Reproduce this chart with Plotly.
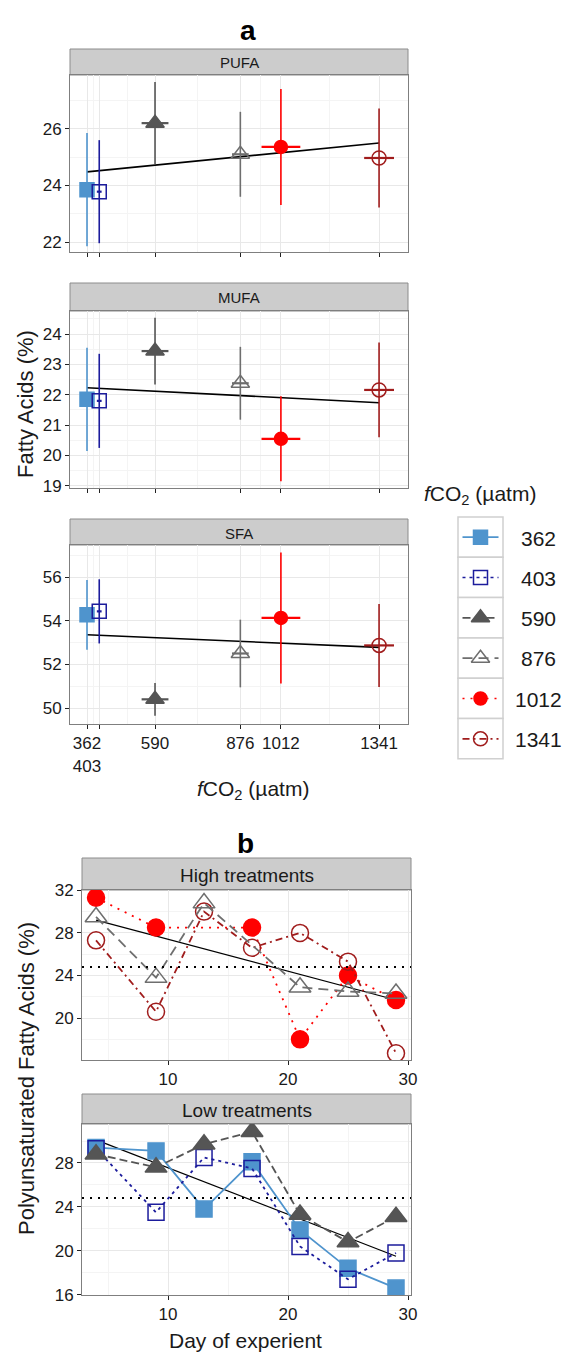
import plotly.graph_objects as go

W, H = 563, 1353
FONT = "Liberation Sans, Arial, sans-serif"

# ---- panel a: fatty acids vs fCO2 (mean and sd) ----
co2 = [362, 403, 590, 876, 1012, 1341]
co2_sd = [8, 8, 45, 28, 65, 50]
pufa = [23.85, 23.78, 26.2, 25.1, 25.36, 24.97]
pufa_sd = [2.0, 1.82, 1.45, 1.5, 2.05, 1.75]
mufa = [21.85, 21.8, 23.44, 22.38, 20.55, 22.16]
mufa_sd = [1.7, 1.55, 1.1, 1.2, 1.4, 1.56]
sfa = [54.27, 54.43, 50.4, 52.5, 54.13, 52.87]
sfa_sd = [1.6, 1.47, 0.75, 1.55, 3.0, 1.9]
pufa_fit = [24.48, 25.5]
mufa_fit = [22.23, 21.74]
sfa_fit = [53.36, 52.78]

# ---- panel b: PUFA over time ----
days = [4, 9, 13, 17, 21, 25, 29]
high = {
    1012: [31.3, 28.5, None, 28.5, 18.0, 24.0, 21.7],
    1341: [27.3, 20.6, 30.0, 26.6, 28.0, 25.3, 16.7],
    876: [29.5, 23.8, 30.8, None, 22.9, 22.5, 22.3],
}
low = {
    362: [29.4, 29.1, 23.8, 28.1, 21.9, 18.4, 16.6],
    403: [29.3, 23.5, 28.5, 27.5, 20.4, 17.4, 19.8],
    590: [28.8, 27.6, 29.7, 30.85, 23.3, 20.8, 23.1],
}
high_fit = [29.2, 21.7]
low_fit = [30.1, 19.5]
ref_level = 24.8

sty = {
    362: dict(c="#4F94CD", sym="square", dash="solid", sa=14, sb=16),
    403: dict(c="#1C1C9C", sym="square-open", dash="3px,4px", sa=14, sb=16),
    590: dict(c="#555555", sym="triangle-up", dash="8px,4px", sa=16, sb=19),
    876: dict(c="#6E6E6E", sym="triangle-up-open", dash="10px,6px", sa=16, sb=19),
    1012: dict(c="#FF0000", sym="circle", dash="2px,6px", sa=13, sb=17),
    1341: dict(c="#A01C1C", sym="circle-open", dash="7px,4px,2px,4px", sa=14, sb=17),
}


def px(x):
    return x / W


def py(y):
    return 1 - y / H


fig = go.Figure()
shapes = []
ann = []

# plot boxes in pixel coords: (x0, x1, ytop, ybottom)
boxes = {
    1: (70, 408, 75, 252),
    2: (70, 408, 311, 488),
    3: (70, 408, 545, 724),
    4: (82, 411, 890, 1060),
    5: (82, 411, 1124, 1295),
}
strips = {1: (49, "PUFA", 15), 2: (283, "MUFA", 15), 3: (519, "SFA", 15),
          4: (858, "High treatments", 19), 5: (1094, "Low treatments", 19)}

panels_a = [(1, pufa, pufa_sd, pufa_fit), (2, mufa, mufa_sd, mufa_fit), (3, sfa, sfa_sd, sfa_fit)]
for k, vals, sds, fit in panels_a:
    xa, ya = "x%d" % k, "y%d" % k
    fig.add_trace(go.Scatter(x=[co2[0], co2[-1]], y=fit, mode="lines",
                             line=dict(color="black", width=1.6), xaxis=xa, yaxis=ya))
    for i, t in enumerate(co2):
        s = sty[t]
        fig.add_trace(go.Scatter(
            x=[t], y=[vals[i]], mode="markers", xaxis=xa, yaxis=ya,
            marker=dict(symbol=s["sym"], size=s["sa"], color=s["c"],
                        line=dict(color=s["c"], width=1.5)),
            error_y=dict(type="data", array=[sds[i]], width=0, thickness=1.6, color=s["c"]),
            error_x=dict(type="data", array=[co2_sd[i]], width=0, thickness=2.2, color=s["c"]),
        ))

for k, group, fit in [(4, high, high_fit), (5, low, low_fit)]:
    xa, ya = "x%d" % k, "y%d" % k
    fig.add_trace(go.Scatter(x=[days[0], days[-1]], y=fit, mode="lines",
                             line=dict(color="black", width=1.2), xaxis=xa, yaxis=ya))
    for t, vals in group.items():
        s = sty[t]
        fig.add_trace(go.Scatter(
            x=days, y=vals, mode="lines+markers", connectgaps=True, xaxis=xa, yaxis=ya,
            line=dict(color=s["c"], width=1.8, dash=s["dash"]),
            marker=dict(symbol=s["sym"], size=s["sb"], color=s["c"],
                        line=dict(color=s["c"], width=1.5)),
        ))
    shapes.append(dict(type="line", xref="x%d domain" % k, yref=ya, x0=0, x1=1,
                       y0=ref_level, y1=ref_level, line=dict(color="black", width=2, dash="2px,6px")))

# legend keys on their own axis
for i, t in enumerate(co2):
    s = sty[t]
    fig.add_trace(go.Scatter(x=[0.1, 0.9], y=[i + 0.5, i + 0.5], mode="lines",
                             line=dict(color=s["c"], width=1.6, dash=s["dash"]),
                             xaxis="x6", yaxis="y6"))
    fig.add_trace(go.Scatter(x=[0.5], y=[i + 0.5], mode="markers",
                             marker=dict(symbol=s["sym"], size=s["sa"], color=s["c"],
                                         line=dict(color=s["c"], width=1.5)),
                             xaxis="x6", yaxis="y6"))

grid = "#E8E8E8"
minor_grid = "#F4F4F4"
tickfont = dict(family=FONT, size=17, color="#1a1a1a")


def xcfg(k, rng, tv, tt, minor, labels):
    x0, x1, yt, yb = boxes[k]
    return dict(domain=[px(x0), px(x1)], anchor="y%d" % k, range=rng,
                tickvals=tv, ticktext=tt, showticklabels=labels,
                ticks="outside", ticklen=4, tickwidth=1.2, tickcolor="#222",
                showline=True, mirror=True, linecolor="#7F7F7F", linewidth=1,
                showgrid=True, gridcolor=grid, gridwidth=1, zeroline=False,
                minor=dict(tickvals=minor, showgrid=True, gridcolor=minor_grid, ticks=""),
                tickfont=tickfont, automargin=False)


def ycfg(k, rng, tv, minor):
    x0, x1, yt, yb = boxes[k]
    return dict(domain=[py(yb), py(yt)], anchor="x%d" % k, range=rng,
                tickvals=tv, ticks="outside", ticklen=4, tickwidth=1.2, tickcolor="#222",
                showline=True, mirror=True, linecolor="#7F7F7F", linewidth=1,
                showgrid=True, gridcolor=grid, gridwidth=1, zeroline=False,
                minor=dict(tickvals=minor, showgrid=True, gridcolor=minor_grid, ticks=""),
                tickfont=tickfont, automargin=False)


co2_minor = [(co2[i] + co2[i + 1]) / 2 for i in range(len(co2) - 1)]
co2_text = ["362<br>403", "", "590", "876", "1012", "1341"]
layout_axes = {}
for k in (1, 2, 3):
    layout_axes["xaxis%d" % k] = xcfg(k, [305, 1438], co2, co2_text, co2_minor, k == 3)
layout_axes["yaxis1"] = ycfg(1, [21.65, 27.9], [22, 24, 26], [21, 23, 25, 27])
layout_axes["yaxis2"] = ycfg(2, [18.93, 24.76], [19, 20, 21, 22, 23, 24],
                             [19.5, 20.5, 21.5, 22.5, 23.5, 24.5])
layout_axes["yaxis3"] = ycfg(3, [49.27, 57.47], [50, 52, 54, 56], [51, 53, 55, 57])
for k in (4, 5):
    layout_axes["xaxis%d" % k] = xcfg(k, [2.83, 30.25], [10, 20, 30], ["10", "20", "30"],
                                      [5, 15, 25], True)
layout_axes["yaxis4"] = ycfg(4, [16.06, 32.03], [16, 20, 24, 28, 32], [18, 22, 26, 30])
layout_axes["yaxis5"] = ycfg(5, [15.97, 31.55], [16, 20, 24, 28, 32], [18, 22, 26, 30])
layout_axes["xaxis6"] = dict(domain=[px(458), px(503)], anchor="y6", range=[0, 1], visible=False)
layout_axes["yaxis6"] = dict(domain=[py(759), py(517)], anchor="x6", range=[6, 0], visible=False)


def label(text, x, y, size, **kw):
    d = dict(text=text, x=px(x), y=py(y), xref="paper", yref="paper", showarrow=False,
             xanchor="center", yanchor="middle", font=dict(family=FONT, size=size, color="#1a1a1a"))
    d.update(kw)
    return d


for k, (ytop, text, fs) in strips.items():
    x0, x1, yt, yb = boxes[k]
    shapes.append(dict(type="rect", xref="paper", yref="paper", x0=px(x0), x1=px(x1),
                       y0=py(yt), y1=py(ytop), fillcolor="#CCCCCC",
                       line=dict(color="#8C8C8C", width=1), layer="below"))
    ann.append(label(text, (x0 + x1) / 2, (ytop + yt) / 2 + 1, fs))

# legend boxes and labels
for i, t in enumerate(co2):
    y0 = 517 + i * 40.3
    shapes.append(dict(type="rect", xref="paper", yref="paper", x0=px(458), x1=px(503),
                       y0=py(y0 + 40.3), y1=py(y0), fillcolor="white",
                       line=dict(color="#D0D0D0", width=1.5), layer="below"))
    ann.append(label(str(t), 538, y0 + 21, 21))

co2_title = "<i>f</i>CO<sub>2</sub> (µatm)"
ann += [
    label("<b>a</b>", 248, 30, 28, font=dict(family=FONT, size=28, color="black")),
    label("<b>b</b>", 245, 843, 28, font=dict(family=FONT, size=28, color="black")),
    label(co2_title, 253, 790, 21),
    label(co2_title, 480, 495, 21),
    label("Fatty Acids (%)", 25, 404, 22, textangle=-90),
    label("Polyunsaturated Fatty Acids (%)", 26, 1079, 22, textangle=-90),
    label("Day of experient", 245, 1340, 21),
]

fig.update_layout(
    width=W, height=H, autosize=False, showlegend=False,
    margin=dict(l=0, r=0, t=0, b=0, pad=0, autoexpand=False),
    paper_bgcolor="white", plot_bgcolor="white",
    shapes=shapes, annotations=ann, **layout_axes,
)

# drop the default page margin so the figure sits at the window's corner
fig.write_html("out.html", config={"displayModeBar": False},
               post_script="document.body.style.margin='0px';")
